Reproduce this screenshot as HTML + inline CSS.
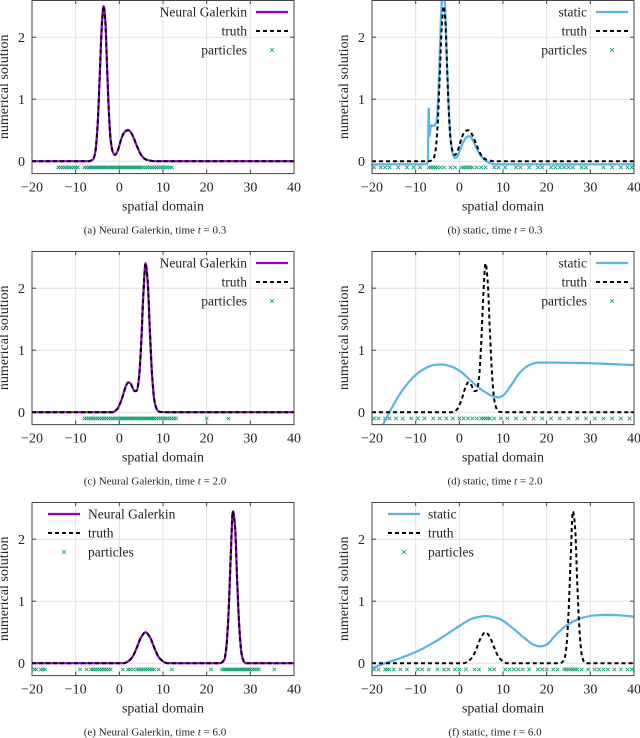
<!DOCTYPE html>
<html><head><meta charset="utf-8">
<style>
body{margin:0;background:#fff;}
svg{display:block;font-family:"Liberation Serif",serif;}
</style></head>
<body>
<svg id="fig" width="640" height="738" viewBox="0 0 640 738" xmlns="http://www.w3.org/2000/svg"></svg>
<script>
// ---- data ----
const xTicks=[-20,-10,0,10,20,30,40];
const yTicks=[0,1,2];
const truthA=[[-20,0],[-7,0],[-6,0.03],[-5.5,0.15],[-5,0.55],[-4.5,1.35],[-4,2.2],[-3.6,2.5],[-3.2,2.25],[-2.8,1.5],[-2.4,0.8],[-2,0.35],[-1.5,0.15],[-1,0.1],[-0.5,0.15],[0,0.25],[0.5,0.37],[1,0.45],[1.5,0.49],[2,0.5],[2.5,0.48],[3,0.42],[4,0.25],[5,0.1],[6,0.03],[7,0.01],[8,0],[40,0]];
const staticB=[[-20,-0.05],[-8,-0.05],[-7.4,-0.04],[-7.2,0],[-7.1,0.5],[-7,0.85],[-6.9,0.4],[-6.7,0.5],[-6.4,0.58],[-5.8,0.57],[-5.2,0.65],[-4.8,1.1],[-4.4,1.9],[-4,2.6],[-3.6,2.8],[-3.2,2.4],[-2.8,1.5],[-2.4,0.8],[-2,0.35],[-1.5,0.12],[-1,0.05],[-0.5,0.07],[0,0.15],[1,0.32],[2,0.4],[2.5,0.4],[3,0.35],[4,0.2],[5,0.08],[6,0.01],[7,-0.03],[8,-0.05],[40,-0.05]];
const truthC=[[-20,0],[-1.5,0],[-0.5,0.05],[0.5,0.2],[1.5,0.42],[2,0.48],[2.5,0.47],[3,0.4],[3.5,0.34],[4,0.35],[4.5,0.55],[5,1.1],[5.5,1.9],[6,2.4],[6.5,2.1],[7,1.3],[7.5,0.6],[8,0.2],[8.5,0.06],[9,0.01],[10,0],[40,0]];
const staticD=[[-17.5,-0.2],[-16,0],[-14,0.25],[-12,0.45],[-10,0.6],[-8,0.7],[-6,0.76],[-4,0.77],[-2,0.74],[0,0.67],[2,0.55],[4,0.42],[6,0.32],[8,0.25],[9,0.24],[10,0.27],[12,0.45],[14,0.65],[16,0.76],[18,0.8],[22,0.8],[30,0.79],[40,0.76]];
const truthE=[[-20,0],[1,0],[2,0.03],[3,0.1],[4,0.25],[5,0.42],[6,0.5],[7,0.42],[8,0.25],[9,0.1],[10,0.03],[11,0],[23,0],[24,0.05],[24.5,0.25],[25,0.8],[25.5,1.7],[26,2.45],[26.5,2.2],[27,1.3],[27.5,0.55],[28,0.15],[28.5,0.03],[29,0],[40,0]];
const staticF=[[-20,-0.08],[-17,0],[-14,0.07],[-10,0.18],[-5,0.37],[0,0.6],[3,0.72],[6,0.76],[9,0.72],[12,0.58],[15,0.4],[17,0.3],[18.5,0.27],[20,0.3],[22,0.45],[24,0.58],[26,0.67],[28,0.73],[31,0.77],[34,0.78],[37,0.77],[40,0.75]];
const partA=[-14,-13.5,-13,-12.5,-12,-11.5,-11,-10.5,-10,-9.5,-8,-7.5,-7,-6.6,-6.2,-5.8,-5.4,-5,-4.6,-4.2,-3.8,-3.4,-3,-2.6,-2.2,-1.8,-1.4,-1,-0.6,-0.2,0.2,0.6,1,1.4,1.8,2.2,2.6,3,3.4,3.8,4.2,4.6,5,5.5,6,6.5,7,7.5,8,8.5,9,9.5,10,10.5,11,11.5,12];
const partB=[-19.5,-18,-17,-16,-14,-12,-10.5,-9,-7,-6.5,-6,-5.5,-5,-4.3,-3.5,-2,-1,0.5,1,1.5,2,2.5,3,4,5,6,8,9,10.5,13,14,16,18,19,21,22,23,24,25,26,28,29,33,35,37,38.5,39.5];
const partC=[-8,-7.5,-7,-6.5,-6,-5.5,-5,-4.5,-4,-3.5,-3,-2.5,-2,-1.5,-1,-0.5,0,0.4,0.8,1.2,1.6,2,2.4,2.8,3.2,3.6,4,4.4,4.8,5.2,5.6,6,6.4,6.8,7.2,7.6,8,8.5,9,9.5,10,10.5,11,11.5,12,12.5,13,20,25];
const partD=[-19.5,-18.5,-17,-16,-14.5,-13,-11,-9.5,-8,-6,-4.5,-3,-1.5,0,1,2,3,4,5,5.5,6,6.5,7,8,9.5,11,13,15,17,19,21,23,25,27,29,31,33,35,37,39];
const partE=[-19.5,-19,-18,-17.5,-17,-9,-7.5,-6.5,-6,-5.5,-5,-4.5,-4,-3.5,-3,-2.5,-2,0.8,2,2.5,3.2,4,4.5,5,5.5,6,6.5,7,7.5,8,9,12,21,23.5,24,24.4,24.8,25.2,25.6,26,26.4,26.8,27.2,27.6,28,28.4,28.8,29.2,29.6,30,30.5,31,31.5,32,35.5];
const partF=[-19.5,-18.5,-17,-16.5,-16,-15,-13.5,-12,-9.5,-8.5,-7,-5,-3.5,-2.5,-1,0,1.5,3.5,4.5,7,8,10.5,11.5,12.5,13.5,14.5,16,18,19,20,21.5,22.5,24,24.5,25,25.5,26,26.5,27,28,29.5,31,32,33,34,35.5,37,38.5,39.5];

// ---- layout ----
const NS="http://www.w3.org/2000/svg";
const fig=document.getElementById('fig');
function el(tag,attrs,parent){const e=document.createElementNS(NS,tag);for(const k in attrs)e.setAttribute(k,attrs[k]);(parent||fig).appendChild(e);return e;}
// monotone cubic (Fritsch-Carlson) in data space, emitted as bezier
function pathD(pts,sx,sy){
  const n=pts.length,xs=pts.map(p=>p[0]),ys=pts.map(p=>p[1]);
  const d=[],m=new Array(n);
  for(let i=0;i<n-1;i++)d.push((ys[i+1]-ys[i])/(xs[i+1]-xs[i]));
  m[0]=d[0];m[n-1]=d[n-2];
  for(let i=1;i<n-1;i++){
    if(d[i-1]*d[i]<=0)m[i]=0;
    else{const h0=xs[i]-xs[i-1],h1=xs[i+1]-xs[i];const w1=2*h1+h0,w2=h1+2*h0;m[i]=(w1+w2)/(w1/d[i-1]+w2/d[i]);}
  }
  let s='M'+sx(xs[0]).toFixed(2)+','+sy(ys[0]).toFixed(2);
  for(let i=0;i<n-1;i++){
    const h=xs[i+1]-xs[i];
    const c1x=xs[i]+h/3,c1y=ys[i]+m[i]*h/3,c2x=xs[i+1]-h/3,c2y=ys[i+1]-m[i+1]*h/3;
    s+='C'+sx(c1x).toFixed(2)+','+sy(c1y).toFixed(2)+' '+sx(c2x).toFixed(2)+','+sy(c2y).toFixed(2)+' '+sx(xs[i+1]).toFixed(2)+','+sy(ys[i+1]).toFixed(2);
  }
  return s;
}
const panels=[
 {id:'a',left:32,top:0,mainName:'Neural Galerkin',color:'#9400d3',main:truthA,truth:truthA,part:partA,legRight:true,cap:'(a) Neural Galerkin, time ',t:'0.3'},
 {id:'b',left:372,top:0,mainName:'static',color:'#56b4e9',main:staticB,truth:truthA,part:partB,legRight:true,cap:'(b) static, time ',t:'0.3'},
 {id:'c',left:32,top:251,mainName:'Neural Galerkin',color:'#9400d3',main:truthC,truth:truthC,part:partC,legRight:true,cap:'(c) Neural Galerkin, time ',t:'2.0'},
 {id:'d',left:372,top:251,mainName:'static',color:'#56b4e9',main:staticD,truth:truthC,part:partD,legRight:true,cap:'(d) static, time ',t:'2.0'},
 {id:'e',left:32,top:502,mainName:'Neural Galerkin',color:'#9400d3',main:truthE,truth:truthE,part:partE,legRight:false,cap:'(e) Neural Galerkin, time ',t:'6.0'},
 {id:'f',left:372,top:502,mainName:'static',color:'#56b4e9',main:staticF,truth:truthE,part:partF,legRight:false,cap:'(f) static, time ',t:'6.0'}
];
const W=262,H=173.6,XMIN=-20,XMAX=40,YMIN=-0.2,YMAX=2.6;
panels.forEach(p=>{
  const g=el('g',{});
  
  
  const sx=v=>p.left+(v-XMIN)/(XMAX-XMIN)*W;
  const sy=v=>p.top+(YMAX-v)/(YMAX-YMIN)*H;
  const clip=el('clipPath',{id:'clip-'+p.id},g);
  el('rect',{x:p.left,y:p.top,width:W,height:H},clip);
  xTicks.forEach(t=>{if(t>XMIN&&t<XMAX){const l=el('line',{x1:sx(t),x2:sx(t),y1:p.top,y2:p.top+H,stroke:'#e0e0e0','stroke-width':1},g);}});
  yTicks.forEach(t=>{const l=el('line',{x1:p.left,x2:p.left+W,y1:sy(t),y2:sy(t),stroke:'#e0e0e0','stroke-width':1},g);});
  xTicks.forEach(t=>{
    el('line',{x1:sx(t),x2:sx(t),y1:p.top+H,y2:p.top+H-4,stroke:'#444'},g);
    el('line',{x1:sx(t),x2:sx(t),y1:p.top,y2:p.top+4,stroke:'#444'},g);
    const tx=el('text',{x:sx(t),y:p.top+H+18,'text-anchor':'middle','font-size':14,fill:'#222'},g);
    tx.textContent=(t<0?'\u2212'+(-t):String(t));
    
  });
  yTicks.forEach(t=>{
    el('line',{x1:p.left,x2:p.left+4,y1:sy(t),y2:sy(t),stroke:'#444'},g);
    el('line',{x1:p.left+W,x2:p.left+W-4,y1:sy(t),y2:sy(t),stroke:'#444'},g);
    const tx=el('text',{x:p.left-7,y:sy(t)+5,'text-anchor':'end','font-size':14,fill:'#222'},g);
    tx.textContent=String(t);
    
  });
  const cg=el('g',{'clip-path':'url(#clip-'+p.id+')'},g);
  p.part.forEach(v=>{
    const x=sx(v),y=sy(-0.1);
    const m=el('path',{d:`M${x-1.8},${y-1.8}L${x+1.8},${y+1.8}M${x-1.8},${y+1.8}L${x+1.8},${y-1.8}`,stroke:'#009e73','stroke-width':0.8},cg);
    
  });
  const ml=el('path',{d:pathD(p.main,sx,sy),fill:'none',stroke:p.color,'stroke-width':2.2},cg);
  
  const tl=el('path',{d:pathD(p.truth,sx,sy),fill:'none',stroke:'#000','stroke-width':2,'stroke-dasharray':'4,3'},cg);
  
  const fr=el('rect',{x:p.left,y:p.top+0.5,width:W,height:H-0.5,fill:'none',stroke:'#444','stroke-width':1},g);
  
  const lg=el('g',{},g);
  
  const names=[p.mainName,'truth','particles'];
  names.forEach((n,i)=>{
    const y=p.top+12+i*19;
    let lx1,lx2,tx,anchor;
    if(p.legRight){tx=p.left+W-47;anchor='end';lx1=p.left+W-38;lx2=p.left+W-6;}
    else{lx1=p.left+16;lx2=p.left+48;tx=p.left+56;anchor='start';}
    const t=el('text',{x:tx,y:y+4.5,'text-anchor':anchor,'font-size':13.5,fill:'#222'},lg);
    t.textContent=n;
    
    if(i===0)el('line',{x1:lx1,x2:lx2,y1:y,y2:y,stroke:p.color,'stroke-width':2.2},lg);
    if(i===1)el('line',{x1:lx1,x2:lx2,y1:y,y2:y,stroke:'#000','stroke-width':2,'stroke-dasharray':'4,3'},lg);
    if(i===2){const cx=(lx1+lx2)/2;el('path',{d:`M${cx-1.8},${y-1.8}L${cx+1.8},${y+1.8}M${cx-1.8},${y+1.8}L${cx+1.8},${y-1.8}`,stroke:'#009e73','stroke-width':0.8},lg);}
  });
  const xt=el('text',{x:p.left+W/2,y:p.top+H+37,'text-anchor':'middle','font-size':14,fill:'#222'},g);
  xt.textContent='spatial domain';
  const yx=p.left-24,yy=p.top+H/2;
  const yt=el('text',{x:yx,y:yy,'text-anchor':'middle','font-size':14,fill:'#222',transform:`rotate(-90 ${yx} ${yy})`},g);
  yt.textContent='numerical solution';
  const cp=el('text',{x:p.left+W/2-8,y:p.top+H+60,'text-anchor':'middle','font-size':11,fill:'#222'},g);
  
  cp.appendChild(document.createTextNode(p.cap));
  const it=el('tspan',{'font-style':'italic'},cp);it.textContent='t';
  cp.appendChild(document.createTextNode(' = '+p.t));
});
</script>
</body></html>
